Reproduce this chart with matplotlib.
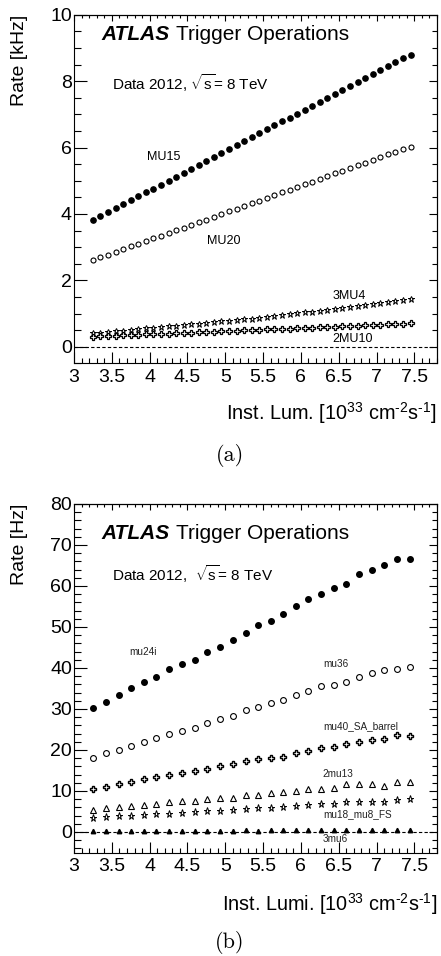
import matplotlib
matplotlib.use('Agg')
from matplotlib import pyplot as plt
from matplotlib.ticker import MultipleLocator

plt.rcParams['font.family'] = ['Liberation Sans', 'DejaVu Sans']
plt.rcParams['mathtext.fontset'] = 'custom'
plt.rcParams['mathtext.rm'] = 'Liberation Sans'
plt.rcParams['mathtext.it'] = 'Liberation Sans:italic'
plt.rcParams['mathtext.bf'] = 'Liberation Sans:bold'

# ---- panel (a): L1 muon rates [kHz] ----
lumi_a = [3.25, 3.35, 3.45, 3.55, 3.65, 3.75, 3.85, 3.95, 4.05, 4.15,
          4.25, 4.35, 4.45, 4.55, 4.65, 4.75, 4.85, 4.95, 5.05, 5.15,
          5.25, 5.35, 5.45, 5.55, 5.65, 5.75, 5.85, 5.95, 6.05, 6.15,
          6.25, 6.35, 6.45, 6.55, 6.65, 6.75, 6.85, 6.95, 7.05, 7.15,
          7.25, 7.35, 7.45]
mu15 = [3.81, 3.93, 4.05, 4.17, 4.29, 4.41, 4.53, 4.65, 4.76, 4.88,
        5.00, 5.12, 5.23, 5.35, 5.47, 5.59, 5.71, 5.83, 5.95, 6.07,
        6.19, 6.31, 6.43, 6.55, 6.67, 6.79, 6.90, 7.02, 7.14, 7.26,
        7.38, 7.50, 7.62, 7.74, 7.86, 7.98, 8.10, 8.22, 8.34, 8.46,
        8.58, 8.71, 8.79]
mu20 = [2.61, 2.69, 2.77, 2.85, 2.94, 3.02, 3.10, 3.18, 3.26, 3.34,
        3.42, 3.51, 3.59, 3.67, 3.75, 3.83, 3.91, 3.99, 4.08, 4.16,
        4.24, 4.32, 4.40, 4.48, 4.56, 4.65, 4.73, 4.81, 4.89, 4.97,
        5.05, 5.13, 5.22, 5.30, 5.38, 5.46, 5.54, 5.62, 5.70, 5.79,
        5.87, 5.95, 6.02]
mu4_3 = [0.40, 0.42, 0.44, 0.46, 0.48, 0.51, 0.53, 0.55, 0.57, 0.59,
         0.61, 0.63, 0.65, 0.67, 0.69, 0.72, 0.74, 0.76, 0.78, 0.80,
         0.82, 0.84, 0.87, 0.90, 0.92, 0.95, 0.98, 1.01, 1.04, 1.06,
         1.09, 1.12, 1.15, 1.18, 1.20, 1.23, 1.26, 1.29, 1.32, 1.34,
         1.37, 1.40, 1.43]
mu10_2 = [0.30, 0.31, 0.32, 0.33, 0.34, 0.35, 0.36, 0.37, 0.38, 0.38,
          0.39, 0.40, 0.41, 0.42, 0.43, 0.44, 0.45, 0.46, 0.47, 0.48,
          0.49, 0.50, 0.51, 0.52, 0.53, 0.54, 0.54, 0.55, 0.56, 0.57,
          0.58, 0.59, 0.60, 0.61, 0.62, 0.63, 0.64, 0.65, 0.66, 0.67,
          0.68, 0.69, 0.70]

# ---- panel (b): EF muon rates [Hz] ----
lumi_b = [3.25, 3.42, 3.59, 3.75, 3.92, 4.09, 4.26, 4.43, 4.60, 4.76,
          4.93, 5.10, 5.27, 5.43, 5.60, 5.77, 5.93, 6.10, 6.27, 6.44,
          6.60, 6.77, 6.94, 7.10, 7.27, 7.44]
mu24i = [30.2, 31.8, 33.3, 35.0, 36.5, 37.7, 39.8, 40.9, 42.0, 44.0,
         45.2, 46.8, 48.5, 50.4, 51.4, 53.1, 55.0, 56.9, 58.1, 59.6,
         60.5, 62.8, 64.0, 65.0, 66.5, 66.5]
mu36 = [18.0, 19.2, 20.0, 21.0, 22.0, 22.9, 23.8, 24.7, 25.4, 26.6,
        27.6, 28.4, 29.7, 30.5, 31.4, 32.1, 33.3, 34.3, 35.5, 35.9,
        36.6, 37.9, 38.8, 39.5, 39.8, 40.2]
mu40_sa = [10.4, 11.0, 11.6, 12.1, 12.8, 13.3, 13.8, 14.3, 14.8, 15.4,
           16.0, 16.6, 17.3, 17.8, 18.0, 18.3, 19.3, 19.8, 20.5, 20.8,
           21.5, 22.0, 22.5, 22.7, 23.6, 23.4]
mu13_2 = [5.3, 5.9, 6.1, 6.3, 6.7, 6.9, 7.2, 7.5, 7.5, 8.1,
          8.2, 8.4, 9.0, 9.0, 9.4, 9.8, 10.0, 10.4, 10.4, 10.7,
          11.7, 11.7, 11.7, 11.3, 12.1, 12.1]
mu18_mu8 = [3.4, 3.7, 3.8, 3.9, 4.1, 4.3, 4.5, 4.7, 4.9, 5.1,
            5.2, 5.3, 5.6, 5.8, 5.9, 6.1, 6.3, 6.5, 6.8, 6.8,
            7.2, 7.2, 7.3, 7.2, 7.7, 8.0]
mu6_3 = [0.2, 0.2, 0.2, 0.3, 0.2, 0.3, 0.3, 0.3, 0.3, 0.3,
         0.3, 0.3, 0.4, 0.3, 0.4, 0.4, 0.4, 0.4, 0.4, 0.5,
         0.5, 0.5, 0.5, 0.5, 0.5, 0.6]

W, H = 441, 956
fig = plt.figure(figsize=(W / 100, H / 100), dpi=100)
ax1 = fig.add_axes([74 / W, 1 - 363.3 / H, 363 / W, 348.6 / H])
ax2 = fig.add_axes([74 / W, 1 - 852.5 / H, 363 / W, 348.6 / H])


def style_axes(ax, ymaj, ymin):
    ax.set_xlim(3, 7.8)
    ax.xaxis.set_major_locator(MultipleLocator(0.5))
    ax.xaxis.set_minor_locator(MultipleLocator(0.1))
    ax.yaxis.set_major_locator(MultipleLocator(ymaj))
    ax.yaxis.set_minor_locator(MultipleLocator(ymin))
    ax.xaxis.set_major_formatter(plt.FuncFormatter(lambda v, p: f'{v:g}'))
    ax.tick_params(which='both', direction='in', top=False, right=False,
                   labelsize=14, width=0.8)
    ax.tick_params(axis='x', which='major', length=8, pad=4)
    ax.tick_params(axis='x', which='minor', length=3.6)
    ax.tick_params(axis='y', which='major', length=9, pad=1.5)
    ax.tick_params(axis='y', which='minor', length=5)
    for sp in ax.spines.values():
        sp.set_linewidth(0.8)
    # shorter ticks on the opposite sides
    top = ax.secondary_xaxis('top')
    top.xaxis.set_major_locator(MultipleLocator(0.5))
    top.xaxis.set_minor_locator(MultipleLocator(0.1))
    top.tick_params(which='both', direction='in', labeltop=False, width=0.8)
    top.tick_params(which='major', length=4)
    top.tick_params(which='minor', length=2.4)
    right = ax.secondary_yaxis('right')
    right.yaxis.set_major_locator(MultipleLocator(ymaj))
    right.yaxis.set_minor_locator(MultipleLocator(ymin))
    right.tick_params(which='both', direction='in', labelright=False, width=0.8)
    right.tick_params(which='major', length=6)
    right.tick_params(which='minor', length=3.4)
    ax.axhline(0, color='black', lw=0.8, ls=(0, (3, 2)), zorder=1)


def atlas_label(ax, y_atlas, y_data, data_text):
    ax.text(0.076, y_atlas, 'ATLAS', transform=ax.transAxes, fontsize=15,
            fontweight='bold', fontstyle='italic', ha='left', va='center')
    ax.text(0.280, y_atlas, 'Trigger Operations', transform=ax.transAxes,
            fontsize=15, ha='left', va='center')
    ax.text(0.104, y_data, data_text, transform=ax.transAxes, fontsize=11,
            ha='left', va='center')


# short hyphen (U+2010) in the exponents, like the ROOT original
units = ' [10$^{33}$ cm$^{\u20102}$s$^{\u20101}$]'

# ---- draw panel (a) ----
style_axes(ax1, 2, 0.5)
ax1.set_ylim(-0.5, 10)
ax1.plot(lumi_a, mu15, ls='none', marker='o', ms=3.8, color='black')
ax1.plot(lumi_a, mu20, ls='none', marker='o', ms=3.6, mfc='white', mec='black', mew=0.8)
ax1.plot(lumi_a, mu4_3, ls='none', marker='*', ms=4.5, mfc='white', mec='black', mew=0.7)
ax1.plot(lumi_a, mu10_2, ls='none', marker='P', ms=3.8, mfc='white', mec='black', mew=0.9)
ax1.text(3.97, 5.7, 'MU15', fontsize=9, ha='left', va='center')
ax1.text(4.76, 3.19, 'MU20', fontsize=9, ha='left', va='center')
ax1.text(6.42, 1.54, '3MU4', fontsize=9, ha='left', va='center')
ax1.text(6.42, 0.22, '2MU10', fontsize=9, ha='left', va='center')
atlas_label(ax1, 0.943, 0.803, r'Data 2012, $\sqrt{\mathrm{s}}$= 8 TeV')
ax1.set_ylabel('Rate [kHz]', fontsize=14, loc='top', va='center')
ax1.yaxis.set_label_coords(-0.150, 1.0)
ax1.set_xlabel('Inst. Lum.' + units, fontsize=14.3, loc='right', va='center')
ax1.xaxis.set_label_coords(1.0, -0.143)
fig.text(230 / W, 1 - 455 / H, '(a)', family='cmr10', fontsize=16,
         ha='center', va='center')

# ---- draw panel (b) ----
style_axes(ax2, 10, 2)
ax2.set_ylim(-5, 80)
ax2.plot(lumi_b, mu24i, ls='none', marker='o', ms=4, color='black')
ax2.plot(lumi_b, mu36, ls='none', marker='o', ms=4.2, mfc='white', mec='black', mew=0.8)
ax2.plot(lumi_b, mu40_sa, ls='none', marker='P', ms=4.2, mfc='white', mec='black', mew=1.0)
ax2.plot(lumi_b, mu13_2, ls='none', marker='^', ms=4.2, mfc='white', mec='black', mew=0.8)
ax2.plot(lumi_b, mu18_mu8, ls='none', marker='*', ms=5.2, mfc='white', mec='black', mew=0.7)
ax2.plot(lumi_b, mu6_3, ls='none', marker='^', ms=3.2, color='black')
ax2.text(3.73, 43.8, 'mu24i', fontsize=7.2, ha='left', va='center', color='#222222')
ax2.text(6.29, 40.9, 'mu36', fontsize=7.2, ha='left', va='center', color='#222222')
ax2.text(6.29, 25.9, 'mu40_SA_barrel', fontsize=7.2, ha='left', va='center', color='#222222')
ax2.text(6.29, 14.1, '2mu13', fontsize=7.2, ha='left', va='center', color='#222222')
ax2.text(6.29, 4.3, 'mu18_mu8_FS', fontsize=7.2, ha='left', va='center', color='#222222')
ax2.text(6.29, -1.8, '3mu6', fontsize=7.2, ha='left', va='center', color='#222222')
atlas_label(ax2, 0.914, 0.800, r'Data 2012,  $\sqrt{\mathrm{s}}$= 8 TeV')
ax2.set_ylabel('Rate [Hz]', fontsize=14, loc='top', va='center')
ax2.yaxis.set_label_coords(-0.150, 1.0)
ax2.set_xlabel('Inst. Lumi.' + units, fontsize=14.3, loc='right', va='center')
ax2.xaxis.set_label_coords(1.0, -0.147)
fig.text(230 / W, 1 - 943 / H, '(b)', family='cmr10', fontsize=16,
         ha='center', va='center')

fig.savefig('out.png', dpi=100)
